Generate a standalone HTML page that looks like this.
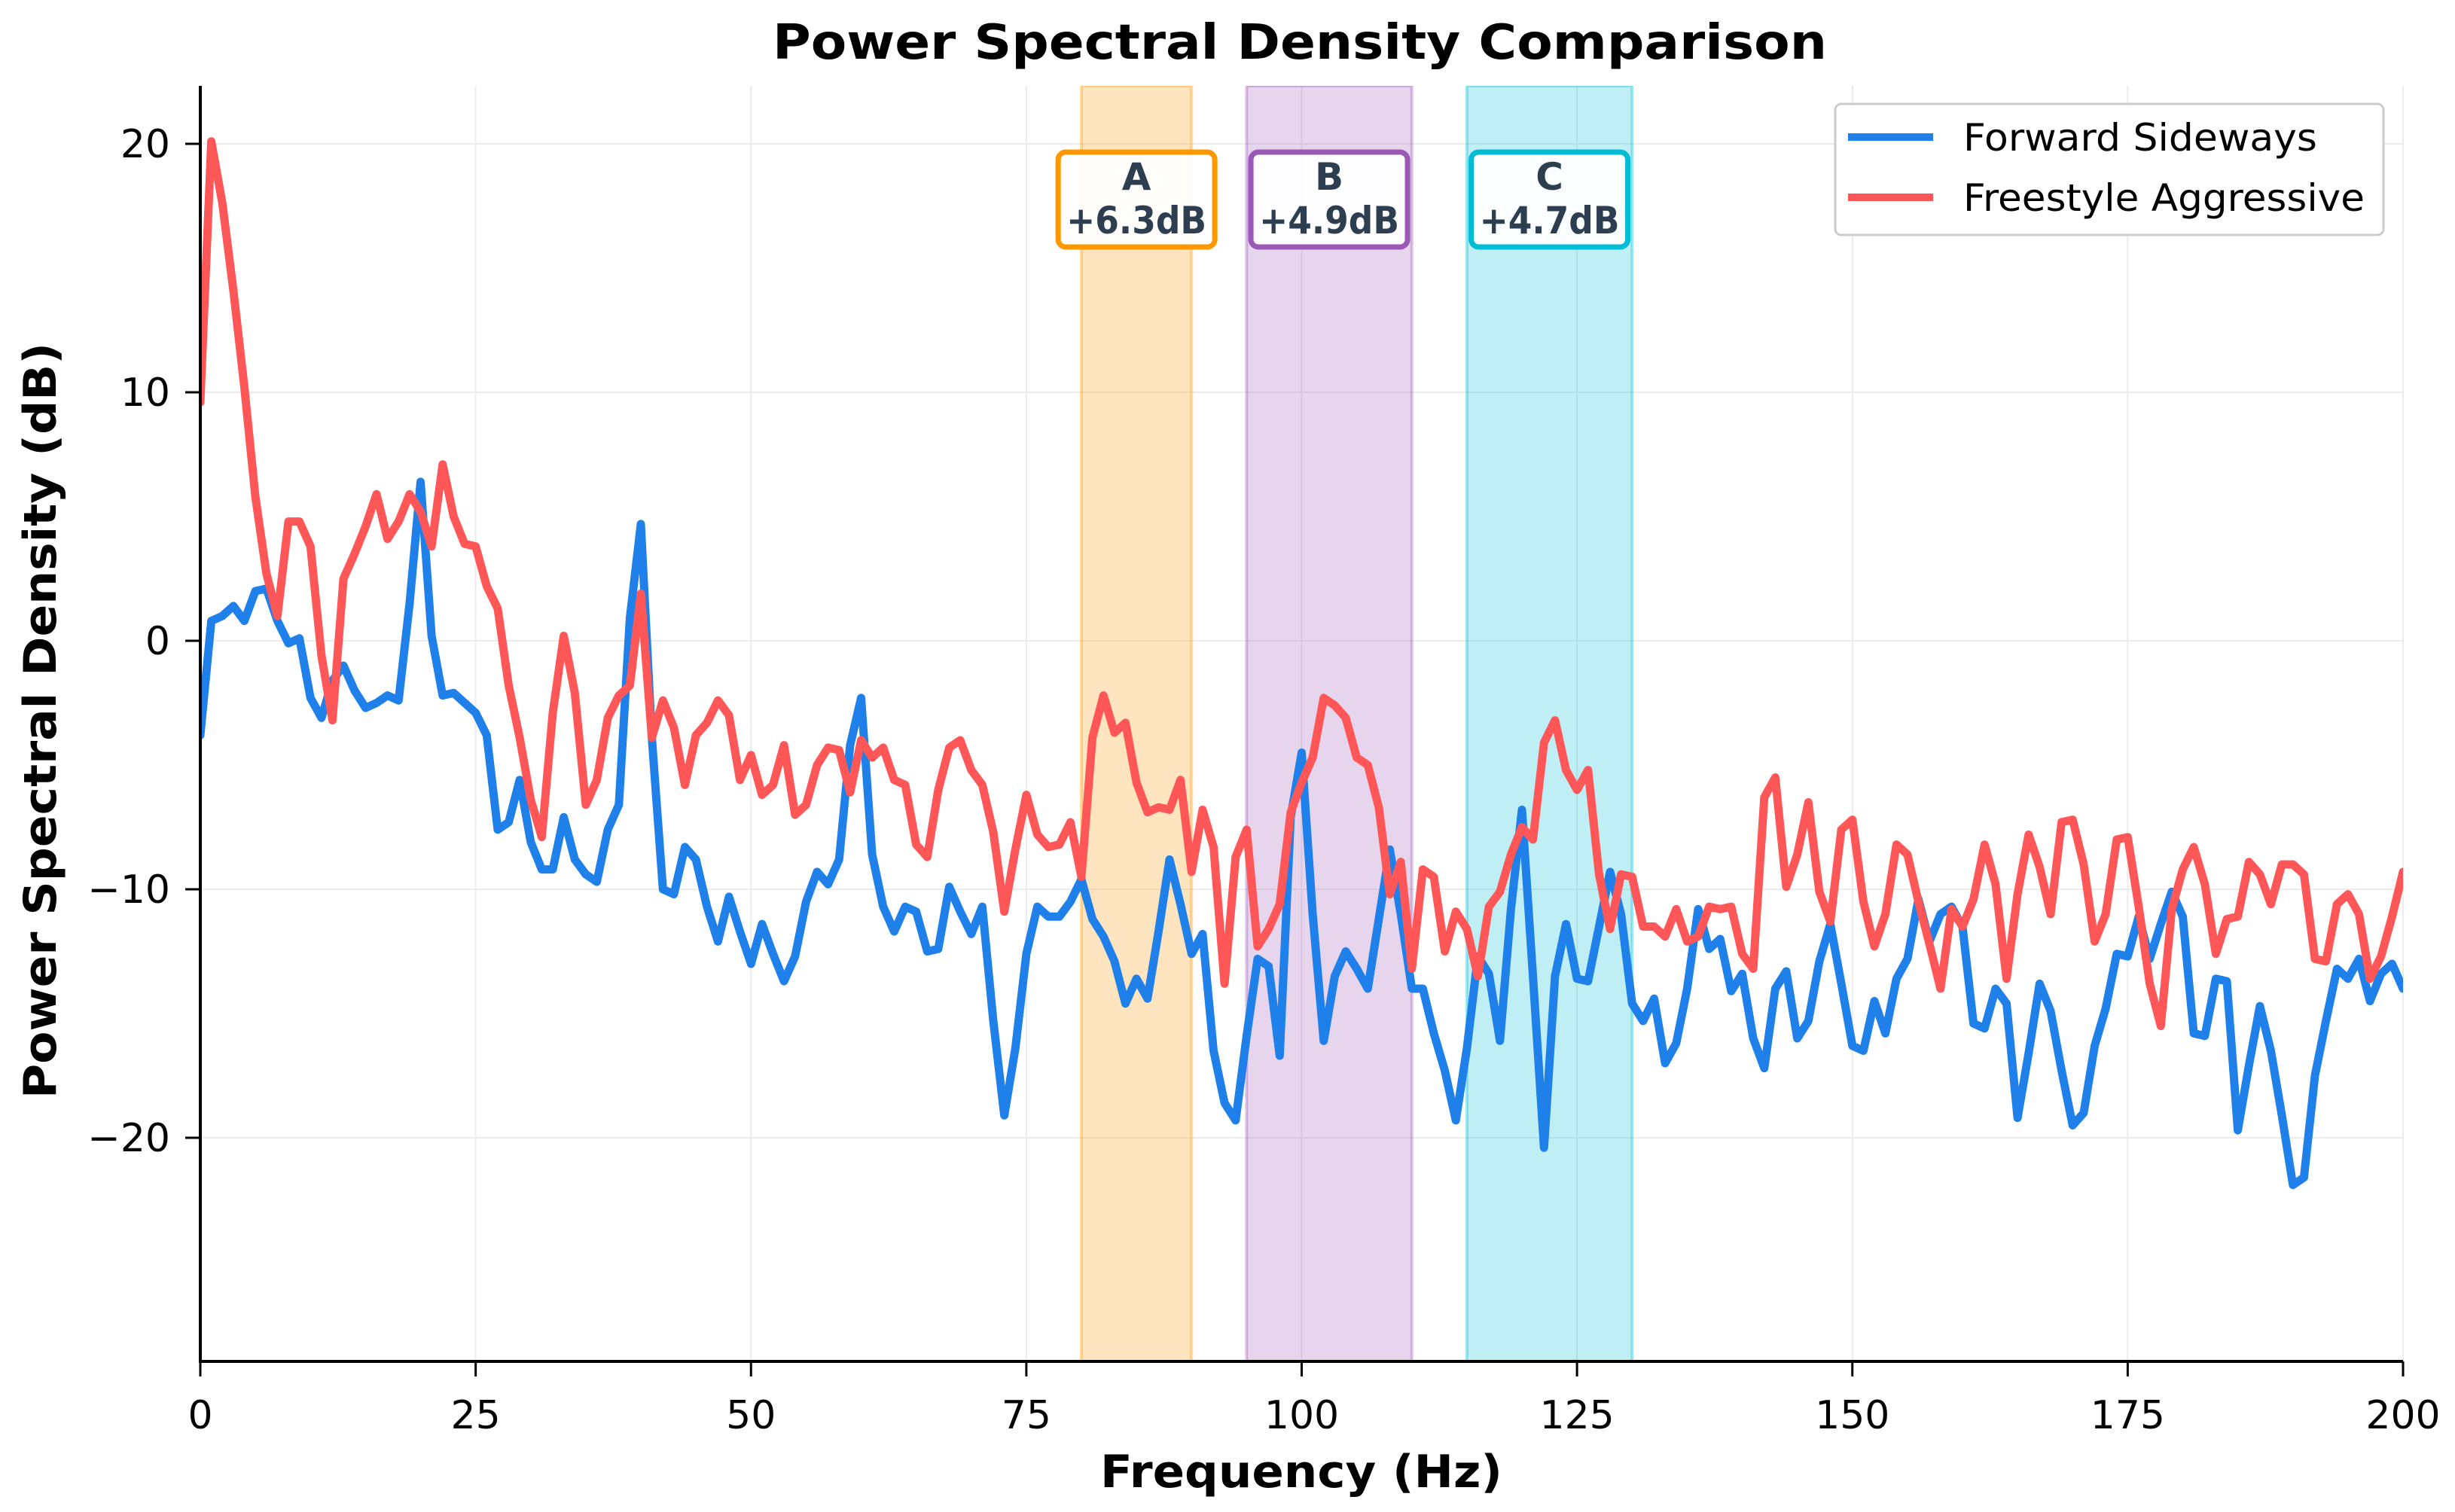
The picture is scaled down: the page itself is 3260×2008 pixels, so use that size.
<!DOCTYPE html>
<html><head><meta charset="utf-8"><style>
html,body{margin:0;padding:0;background:#fff;}
svg{display:block;font-family:"DejaVu Sans","Liberation Sans",sans-serif;}
</style></head><body>
<svg id="chart" width="3260" height="2008" viewBox="0 0 3260 2008" xmlns="http://www.w3.org/2000/svg">
<defs><clipPath id="plotclip"><rect x="266" y="114" width="2925" height="1694"/></clipPath></defs>
<g id="grid"></g>
<g id="bands" clip-path="url(#plotclip)"></g>
<g id="series" clip-path="url(#plotclip)"></g>
<g id="axes"></g>
<g id="annots"></g>
<text x="1726" y="78" text-anchor="middle" font-size="64" font-weight="bold" textLength="1400" lengthAdjust="spacingAndGlyphs">Power Spectral Density Comparison</text>
<text x="1728" y="1975" text-anchor="middle" font-size="60" font-weight="bold" textLength="534" lengthAdjust="spacingAndGlyphs">Frequency (Hz)</text>
<text transform="translate(74,957) rotate(-90)" text-anchor="middle" font-size="60" font-weight="bold" textLength="1004" lengthAdjust="spacingAndGlyphs">Power Spectral Density (dB)</text>
<g>
<rect x="2437" y="138" width="728" height="174" rx="8" fill="#fff" fill-opacity="0.9" stroke="#ccc" stroke-width="3"/>
<line x1="2454" y1="182" x2="2567" y2="182" stroke="#1e80e8" stroke-width="10"/>
<text x="2607" y="200" font-size="50" textLength="470" lengthAdjust="spacingAndGlyphs">Forward Sideways</text>
<line x1="2454" y1="262" x2="2567" y2="262" stroke="#ff5757" stroke-width="10"/>
<text x="2607" y="280" font-size="50" textLength="533" lengthAdjust="spacingAndGlyphs">Freestyle Aggressive</text>
</g>
</svg>
<script>
const freqs = Array.from({length:201}, (_, i) => i);
const forwardSideways = [
-3.8,0.8,1.0,1.4,0.8,2.0,2.1,0.8,-0.1,0.1,
-2.3,-3.1,-1.6,-1.0,-2.0,-2.7,-2.5,-2.2,-2.4,1.5,
6.4,0.2,-2.2,-2.1,-2.5,-2.9,-3.8,-7.6,-7.3,-5.6,
-8.1,-9.2,-9.2,-7.1,-8.8,-9.4,-9.7,-7.6,-6.6,0.9,
4.7,-3.9,-10.0,-10.2,-8.3,-8.8,-10.7,-12.1,-10.3,-11.7,
-13.0,-11.4,-12.6,-13.7,-12.7,-10.5,-9.3,-9.8,-8.8,-4.2,
-2.3,-8.6,-10.7,-11.7,-10.7,-10.9,-12.5,-12.4,-9.9,-10.9,
-11.8,-10.7,-15.3,-19.1,-16.4,-12.6,-10.7,-11.1,-11.1,-10.5,
-9.6,-11.2,-11.9,-12.9,-14.6,-13.6,-14.4,-11.7,-8.8,-10.6,
-12.6,-11.8,-16.5,-18.6,-19.3,-15.9,-12.8,-13.1,-16.7,-7.1,
-4.5,-11.0,-16.1,-13.5,-12.5,-13.2,-14.0,-11.2,-8.4,-11.0,
-14.0,-14.0,-15.8,-17.3,-19.3,-16.4,-12.7,-13.4,-16.1,-10.8,
-6.8,-13.5,-20.4,-13.5,-11.4,-13.6,-13.7,-11.5,-9.3,-11.0,
-14.6,-15.3,-14.4,-17.0,-16.2,-14.0,-10.8,-12.4,-12.0,-14.1,
-13.4,-16.0,-17.2,-14.0,-13.3,-16.0,-15.3,-12.9,-11.4,-13.8,
-16.3,-16.5,-14.5,-15.8,-13.6,-12.8,-10.4,-12.1,-11.0,-10.7,
-11.5,-15.4,-15.6,-14.0,-14.6,-19.2,-16.6,-13.8,-14.9,-17.3,
-19.5,-19.0,-16.3,-14.8,-12.6,-12.7,-11.1,-12.8,-11.4,-10.1,
-11.1,-15.8,-15.9,-13.6,-13.7,-19.7,-17.1,-14.7,-16.5,-19.1,
-21.9,-21.6,-17.5,-15.3,-13.2,-13.6,-12.8,-14.5,-13.4,-13.0,
-14.0];
const freestyleAggressive = [
9.6,20.1,17.6,14.1,10.2,5.8,2.7,1.0,4.8,4.8,
3.8,-0.6,-3.2,2.5,3.5,4.6,5.9,4.1,4.8,5.9,
5.2,3.8,7.1,5.0,3.9,3.8,2.2,1.3,-1.8,-3.9,
-6.4,-7.9,-2.9,0.2,-2.1,-6.6,-5.6,-3.1,-2.2,-1.8,
1.9,-3.9,-2.4,-3.5,-5.8,-3.8,-3.3,-2.4,-3.0,-5.6,
-4.6,-6.2,-5.8,-4.2,-7.0,-6.6,-5.0,-4.3,-4.4,-6.1,
-4.0,-4.7,-4.3,-5.6,-5.8,-8.2,-8.7,-6.0,-4.3,-4.0,
-5.2,-5.8,-7.7,-10.9,-8.4,-6.2,-7.8,-8.3,-8.2,-7.3,
-9.5,-3.9,-2.2,-3.7,-3.3,-5.7,-6.9,-6.7,-6.8,-5.6,
-9.3,-6.8,-8.3,-13.8,-8.7,-7.6,-12.3,-11.6,-10.6,-6.9,
-5.7,-4.7,-2.3,-2.6,-3.1,-4.7,-5.0,-6.7,-10.2,-8.9,
-13.2,-9.2,-9.5,-12.5,-10.9,-11.6,-13.5,-10.7,-10.1,-8.6,
-7.5,-8.0,-4.1,-3.2,-5.2,-6.0,-5.2,-9.4,-11.6,-9.4,
-9.5,-11.5,-11.5,-11.9,-10.8,-12.1,-11.9,-10.7,-10.8,-10.7,
-12.6,-13.2,-6.3,-5.5,-9.9,-8.6,-6.5,-10.1,-11.3,-7.6,
-7.2,-10.5,-12.3,-11.0,-8.2,-8.6,-10.5,-12.2,-14.0,-10.8,
-11.5,-10.4,-8.2,-9.8,-13.6,-10.2,-7.8,-9.1,-11.0,-7.3,
-7.2,-9.0,-12.1,-11.0,-8.0,-7.9,-10.7,-13.8,-15.5,-10.8,
-9.2,-8.3,-9.8,-12.6,-11.2,-11.1,-8.9,-9.4,-10.6,-9.0,
-9.0,-9.4,-12.8,-12.9,-10.6,-10.2,-11.0,-13.6,-12.7,-11.1,
-9.3];
const xTicks = [0,25,50,75,100,125,150,175,200];
const yTicks = [20,10,0,-10,-20];
const bandStarts = [80,95,115];
const bandEnds = [90,110,130];
const bandLabels = ["A","B","C"];
const bandDeltas = ["+6.3dB","+4.9dB","+4.7dB"];

const NS = "http://www.w3.org/2000/svg";
const X0 = 266, X1 = 3191, Ytop = 114, Ybot = 1808;
const xs = f => X0 + (f - 0) / 200 * (X1 - X0);
const ys = v => 851 - v * 33.0;
function mk(tag, attrs, parent){ const e = document.createElementNS(NS, tag); for (const k in attrs) e.setAttribute(k, attrs[k]); parent.appendChild(e); return e; }

const grid = document.getElementById('grid');
xTicks.forEach(t => {
  const l = mk('line', {x1: xs(t), x2: xs(t), y1: Ytop, y2: Ybot, stroke: '#ececec', 'stroke-width': 2}, grid);
  
  
});
yTicks.forEach(t => {
  const l = mk('line', {x1: X0, x2: X1, y1: ys(t), y2: ys(t), stroke: '#ececec', 'stroke-width': 2}, grid);
  
  
});

const bandColors = ['#ff9800', '#9b59b6', '#00bcd4'];
const bands = document.getElementById('bands');
bandStarts.forEach((s, i) => {
  const r = mk('rect', {x: xs(s), y: Ytop, width: xs(bandEnds[i]) - xs(s), height: Ybot - Ytop, fill: bandColors[i], 'fill-opacity': 0.25, stroke: bandColors[i], 'stroke-opacity': 0.35, 'stroke-width': 4}, bands);
  
  
});

const series = document.getElementById('series');
function drawLine(vals, color, name){
  const d = vals.map((v, i) => (i ? 'L' : 'M') + xs(freqs[i]).toFixed(1) + ',' + ys(v).toFixed(1)).join('');
  const p = mk('path', {d: d, fill: 'none', stroke: color, 'stroke-width': 11, 'stroke-linejoin': 'round', 'stroke-linecap': 'round'}, series);
  
  
}
drawLine(forwardSideways, '#1e80e8', 'forward-sideways-line');
drawLine(freestyleAggressive, '#ff5757', 'freestyle-aggressive-line');

const axes = document.getElementById('axes');
const ly = mk('line', {x1: X0, x2: X0, y1: Ytop, y2: Ybot + 2, stroke: '#000', 'stroke-width': 4}, axes);


const lx = mk('line', {x1: X0 - 2, x2: X1, y1: Ybot, y2: Ybot, stroke: '#000', 'stroke-width': 4}, axes);


xTicks.forEach(t => {
  const tk = mk('line', {x1: xs(t), x2: xs(t), y1: Ybot, y2: Ybot + 20, stroke: '#000', 'stroke-width': 3}, axes);
  
  
  const tx = mk('text', {x: xs(t), y: 1897, 'text-anchor': 'middle', 'font-size': 52}, axes);
  tx.textContent = String(t);
  
  
});
yTicks.forEach(t => {
  const tk = mk('line', {x1: X0 - 20, x2: X0, y1: ys(t), y2: ys(t), stroke: '#000', 'stroke-width': 3}, axes);
  
  
  const tx = mk('text', {x: 226, y: ys(t) + 18, 'text-anchor': 'end', 'font-size': 52}, axes);
  tx.textContent = t < 0 ? '\u2212' + Math.abs(t) : String(t);
  
  
});

const annots = document.getElementById('annots');
bandStarts.forEach((s, i) => {
  const cx = xs((s + bandEnds[i]) / 2);
  const g = mk('g', {}, annots);
  
  
  mk('rect', {x: cx - 104, y: 202, width: 208, height: 126, rx: 10, fill: '#fff', 'fill-opacity': 0.92, stroke: bandColors[i], 'stroke-width': 7}, g);
  const t1 = mk('text', {x: cx, y: 252, 'text-anchor': 'middle', 'font-size': 50, 'font-weight': 'bold', fill: '#2c3e50'}, g);
  t1.textContent = bandLabels[i];
  const t2 = mk('text', {x: cx, y: 310, 'text-anchor': 'middle', 'font-size': 50, 'font-weight': 'bold', fill: '#2c3e50', textLength: 186, lengthAdjust: 'spacingAndGlyphs'}, g);
  t2.textContent = bandDeltas[i];
});
</script>
</body></html>
